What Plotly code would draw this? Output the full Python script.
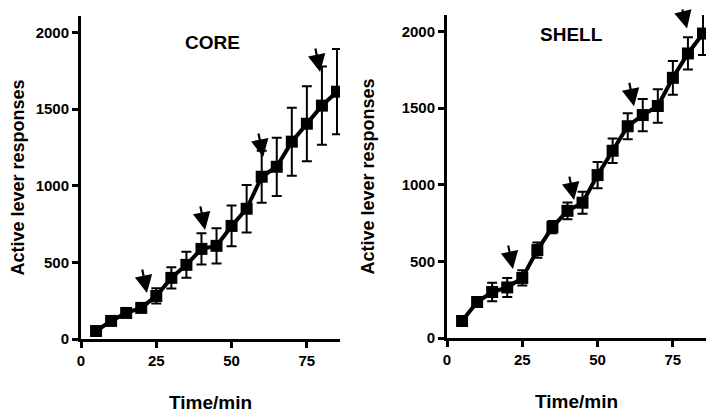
import plotly.graph_objects as go

# ---------------- data ----------------
time_min = [5, 10, 15, 20, 25, 30, 35, 40, 45, 50, 55, 60, 65, 70, 75, 80, 85]

core_mean = [52, 118, 170, 203, 281, 399, 484, 588, 608, 738, 850, 1059, 1124, 1288, 1405, 1523, 1614]
core_sem = [20, 20, 22, 25, 50, 70, 85, 102, 115, 133, 155, 170, 190, 222, 245, 255, 278]

shell_mean = [111, 235, 300, 330, 392, 574, 724, 830, 883, 1063, 1222, 1382, 1455, 1514, 1698, 1857, 1987]
shell_sem = [20, 20, 60, 62, 50, 50, 40, 55, 72, 85, 80, 85, 105, 110, 110, 105, 140]

# arrow markers (tip positions, in data units)
core_arrow_t = [21.9, 41.2, 60.5, 79.4]
core_arrow_v = [300, 712, 1188, 1743]
shell_arrow_t = [21.9, 42.2, 62.1, 79.7]
shell_arrow_v = [450, 900, 1513, 2020]

panel_titles = ["CORE", "SHELL"]
x_ticks = [0, 25, 50, 75]
y_ticks = [0, 500, 1000, 1500, 2000]

FONT = "Liberation Sans, Arial, sans-serif"

# page body has an 8px default margin -> figure is 712x408 placed at (8, 8)
W, H, OFF = 712, 408, 8


def dx(p0, p1):
    return [(p0 - OFF) / W, (p1 - OFF) / W]


def dy(top, bottom):
    return [(H - (bottom - OFF)) / H, (H - (top - OFF)) / H]


fig = go.Figure()

panels = [
    (core_mean, core_sem, core_arrow_t, core_arrow_v, "x", "y"),
    (shell_mean, shell_sem, shell_arrow_t, shell_arrow_v, "x2", "y2"),
]

for mean, sem, at, av, xa, ya in panels:
    fig.add_trace(go.Scatter(
        x=time_min, y=mean, xaxis=xa, yaxis=ya,
        mode="lines+markers",
        line=dict(color="black", width=4),
        marker=dict(symbol="square", size=12, color="black"),
        error_y=dict(type="data", array=sem, visible=True,
                     color="black", thickness=2, width=5),
        showlegend=False,
    ))

annotations = []
for (mean, sem, at, av, xa, ya), title, tx, ty in zip(
        panels, panel_titles, [43.5, 41.2], [1932, 1983]):
    annotations.append(dict(
        x=tx, y=ty, xref=xa, yref=ya, text=title, showarrow=False,
        font=dict(family=FONT, size=19, color="black", weight="bold"),
    ))
    for t, v in zip(at, av):
        # keep the arrow tail inside the figure near the top edge
        ay = -25 if v < 2000 else -21
        annotations.append(dict(
            x=t, y=v, xref=xa, yref=ya, text="", showarrow=True,
            ax=-5, ay=ay, arrowhead=2, arrowsize=1.6, arrowwidth=2.2,
            arrowcolor="black",
        ))

axis_common = dict(
    showline=True, linecolor="black", linewidth=3,
    ticks="outside", ticklen=6, tickwidth=2.5, tickcolor="black",
    showgrid=False, zeroline=False, automargin=False,
    tickfont=dict(family=FONT, size=15, color="black", weight="bold"),
)

xtitle = dict(text="Time/min",
              font=dict(family=FONT, size=19, color="black", weight="bold"),
              standoff=28)
ytitle_font = dict(family=FONT, size=18, color="black", weight="bold")

fig.update_layout(
    width=W, height=H,
    margin=dict(l=0, r=0, t=0, b=0),
    paper_bgcolor="white", plot_bgcolor="white",
    font=dict(family=FONT, color="black"),
    xaxis=dict(axis_common, range=[0, 86], tickvals=x_ticks, title=xtitle,
               domain=dx(81, 340), anchor="y"),
    yaxis=dict(axis_common, range=[0, 2108], tickvals=y_ticks,
               title=dict(text="Active lever responses", font=ytitle_font, standoff=8.5),
               domain=dy(16, 339), anchor="x"),
    xaxis2=dict(axis_common, range=[0, 86], tickvals=x_ticks, title=xtitle,
                domain=dx(447, 706), anchor="y2"),
    yaxis2=dict(axis_common, range=[0, 2108], tickvals=y_ticks,
                title=dict(text="Active lever responses", font=ytitle_font, standoff=22.5),
                domain=dy(15, 338), anchor="x2"),
    annotations=annotations,
)

fig.write_html("out.html")
